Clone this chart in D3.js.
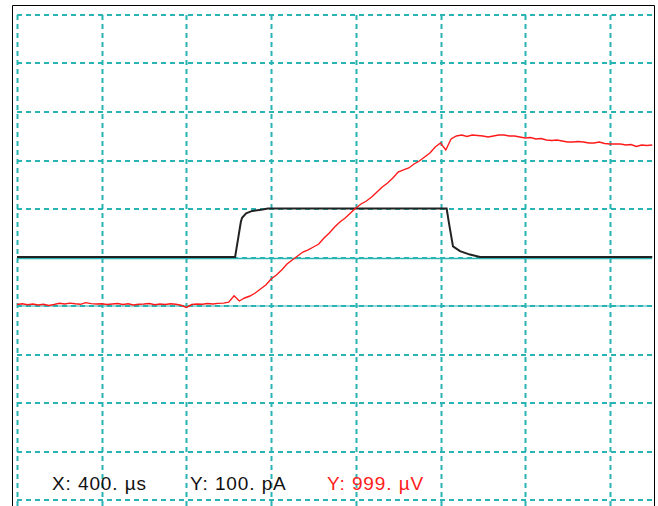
<!DOCTYPE html>
<html>
<head>
<meta charset="utf-8">
<script src="https://cdn.jsdelivr.net/npm/d3@7"></script>
<style>
  body { margin: 0; background: #fff; }
  svg { display: block; }
</style>
</head>
<body>
<div id="scope"></div>
<script>
// scope settings (per division)
const xPerDiv = 400;    // µs
const y1PerDiv = 100;   // pA
const y2PerDiv = 999;   // µV
const labels = ["X: 400. µs", "Y: 100. pA", "Y: 999. µV"];

// black trace: current step (µs, pA)
const stepTime = [0, 1030, 1045, 1057, 1063, 1082, 1111, 1160, 1185, 2029, 2040, 2059, 2092, 2139, 2187, 3000];
const stepValue = [0, 0, 40, 72, 81, 90, 95, 98, 100, 100, 70, 22, 12, 5, 0, 0];

// red trace: voltage, sampled every 25 µs (µV)
const sampleStep = 25;
const voltage = [
  30, 45, 25, 40, 20, 35, 10, 30, 55, 40,
  60, 45, 35, 70, 50, 40, 45, 30, 40, 50,
  30, 45, 20, 35, 40, 50, 25, 40, 30, 45,
  35, 15, -30, 30, 40, 35, 50, 40, 55, 60,
  80, 210, 103, 165, 206, 268, 350, 433, 556, 639,
  742, 865, 948, 1030, 1112, 1154, 1215, 1277, 1401, 1504,
  1627, 1730, 1813, 1916, 2019, 2101, 2163, 2245, 2348, 2451,
  2534, 2637, 2760, 2802, 2843, 2925, 2987, 3069, 3152, 3275,
  3358, 3214, 3440, 3502, 3523, 3492, 3523, 3512, 3502, 3481,
  3502, 3523, 3523, 3502, 3502, 3481, 3461, 3471, 3440, 3451,
  3420, 3409, 3420, 3399, 3378, 3378, 3389, 3378, 3358, 3358,
  3378, 3348, 3337, 3337, 3337, 3317, 3327, 3286, 3317, 3307,
  3317
];

const W = 658, H = 506;
const gridColor = "#2ab3b3";

const svg = d3.select("#scope").append("svg")
    .attr("width", W)
    .attr("height", H);

// x: 0 .. 8 divisions, y: 10 divisions
const x = d3.scaleLinear().domain([0, 8 * xPerDiv]).range([17, 17 + 8 * 84.7]);
const y1 = d3.scaleLinear().domain([-5 * y1PerDiv, 5 * y1PerDiv]).range([500, 15]);
const y2 = d3.scaleLinear().domain([-4 * y2PerDiv, 6 * y2PerDiv]).range([500, 15]);

svg.append("defs").append("clipPath").attr("id", "plot")
    .append("rect").attr("x", 13).attr("y", 6).attr("width", 640).attr("height", 500);

const g = svg.append("g").attr("clip-path", "url(#plot)");

// grid
const xTicks = d3.range(0, 8).map(i => i * xPerDiv);
const yTicks = d3.range(-5, 6).map(i => i * y1PerDiv);

g.selectAll(".vgrid").data(xTicks).enter().append("line")
    .attr("x1", d => Math.round(x(d)) + 0.5)
    .attr("x2", d => Math.round(x(d)) + 0.5)
    .attr("y1", 15).attr("y2", 510)
    .attr("stroke", gridColor)
    .attr("stroke-width", 2)
    .attr("stroke-dasharray", "5,4");

g.selectAll(".hgrid").data(yTicks).enter().append("line")
    .attr("x1", 17).attr("x2", 652)
    .attr("y1", d => Math.round(y1(d)))
    .attr("y2", d => Math.round(y1(d)))
    .attr("stroke", gridColor)
    .attr("stroke-width", 2)
    .attr("stroke-dasharray", "5,4");

// zero lines for each channel
g.append("line")
    .attr("x1", 17).attr("x2", 652)
    .attr("y1", y1(0) + 1).attr("y2", y1(0) + 1)
    .attr("stroke", gridColor).attr("stroke-width", 1.5);
g.append("line")
    .attr("x1", 17).attr("x2", 652)
    .attr("y1", y2(0)).attr("y2", y2(0))
    .attr("stroke", gridColor).attr("stroke-width", 1);

// traces
const stepLine = d3.line()
    .x((d, i) => x(stepTime[i]))
    .y(d => y1(d) - 0.5);

g.append("path")
    .datum(stepValue)
    .attr("d", stepLine)
    .attr("fill", "none")
    .attr("stroke", "#222")
    .attr("stroke-width", 2);

const voltLine = d3.line()
    .x((d, i) => x(i * sampleStep))
    .y(d => y2(d));

g.append("path")
    .datum(voltage)
    .attr("d", voltLine)
    .attr("fill", "none")
    .attr("stroke", "#ff1a1a")
    .attr("stroke-width", 1.4);

// frame (left, top, right)
svg.append("path")
    .attr("d", "M12.5,506 V5.5 H654.5 V506")
    .attr("fill", "none")
    .attr("stroke", "#000")
    .attr("stroke-width", 1);

// scale readouts
const labelX = [52, 190, 327];
const labelColor = ["#111", "#111", "#ff2020"];
svg.selectAll(".lbl").data(labels).enter().append("text")
    .attr("x", (d, i) => labelX[i])
    .attr("y", 490)
    .attr("fill", (d, i) => labelColor[i])
    .style("font-family", "'Liberation Sans', Arial, sans-serif")
    .style("font-size", "19px")
    .style("letter-spacing", "0.9px")
    .text(d => d);
</script>
</body>
</html>
